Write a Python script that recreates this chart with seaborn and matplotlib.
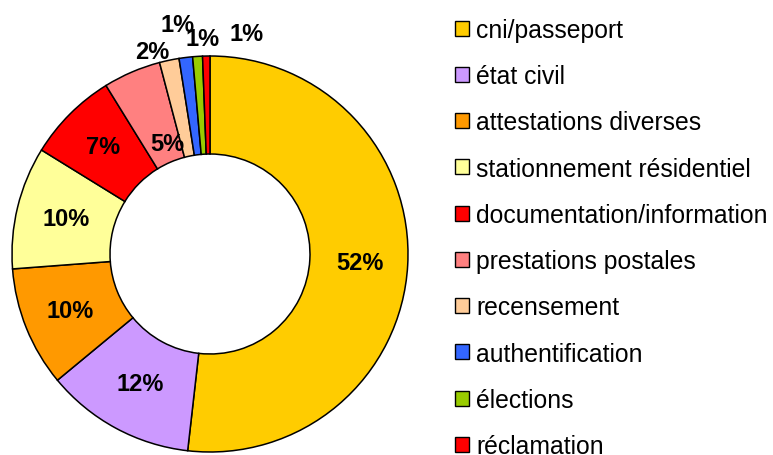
import numpy as np
import matplotlib
matplotlib.use("Agg")
import matplotlib.pyplot as plt
import matplotlib.patches as mpatches
import seaborn as sns

# =============================================================================
# DATA
# =============================================================================
categories = ["cni/passeport", "état civil", "attestations diverses",
              "stationnement résidentiel", "documentation/information",
              "prestations postales", "recensement", "authentification",
              "élections", "réclamation"]
shares = [51.8, 12.2, 9.8, 10.0, 7.4, 4.7, 1.6, 1.1, 0.8, 0.6]
colors = ["#FFCC00", "#CC99FF", "#FF9900", "#FFFF99", "#FF0000",
          "#FF8080", "#FFCC99", "#3366FF", "#99CC00", "#FF0000"]

# label layout: radial distance (in radius units) and angular nudge (deg)
label_radius = [0.76, 0.745, 0.76, 0.75, 0.765, 0.6, 1.065, 1.17, 1.09, 1.13]
label_nudge = [0, 0, 0, 0, 0, -2, 4, 1, -1.5, -10.6]

# =============================================================================
# STYLE
# =============================================================================
sns.set_theme(style="white")
plt.rcParams["font.family"] = ["Liberation Sans", "DejaVu Sans"]
plt.rcParams["text.color"] = "black"

fig = plt.figure(figsize=(7.73, 4.56), dpi=100)
ax = fig.add_axes([12 / 773, 3 / 456, 396 / 773, 396 / 456])

wedges, _ = ax.pie(shares, colors=colors, startangle=90, counterclock=False,
                   radius=1.0,
                   wedgeprops=dict(width=0.495, edgecolor="black", linewidth=1.1))
ax.set_xlim(-1.0, 1.0)
ax.set_ylim(-1.0, 1.0)
ax.set_aspect("equal")

total = sum(shares)
for w, val, r, nudge in zip(wedges, shares, label_radius, label_nudge):
    ang = np.deg2rad((w.theta1 + w.theta2) / 2 + nudge)
    ax.text(r * np.cos(ang), r * np.sin(ang), f"{100 * val / total:.0f}%",
            ha="center", va="center", fontsize=17, fontweight="bold",
            color="black", clip_on=False)

# Legend
handles = [mpatches.Patch(facecolor=c, edgecolor="black", linewidth=1.0, label=l)
           for c, l in zip(colors, categories)]
fig.legend(handles=handles, loc="center left", bbox_to_anchor=(0.589, 0.476),
           frameon=False, fontsize=17.8, borderpad=0, borderaxespad=0,
           handlelength=0.55, handleheight=0.55, handletextpad=0.3,
           labelspacing=0.9, labelcolor="black")

plt.savefig("out.png", dpi=100)
